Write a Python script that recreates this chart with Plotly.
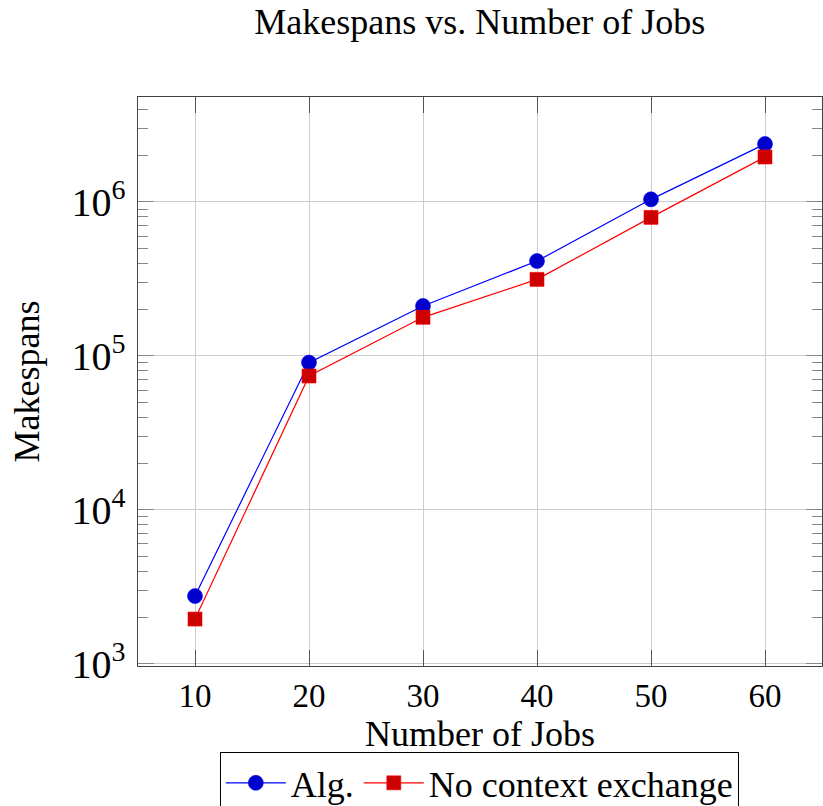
import plotly.graph_objects as go

jobs = [10, 20, 30, 40, 50, 60]
alg = [2750, 90400, 211000, 413000, 1040000, 2380000]
no_ctx = [1950, 74000, 178000, 314000, 794000, 1960000]

FONT = "Liberation Serif"

fig = go.Figure()
fig.add_trace(go.Scatter(
    x=jobs, y=alg, name="Alg.", mode="lines+markers",
    line=dict(color="#0000ff", width=1.2),
    marker=dict(symbol="circle", size=15, color="#0000cc",
                line=dict(color="#0000ff", width=0.6)),
))
fig.add_trace(go.Scatter(
    x=jobs, y=no_ctx, name="No context exchange", mode="lines+markers",
    line=dict(color="#ff0000", width=1.2),
    marker=dict(symbol="square", size=14, color="#cc0000",
                line=dict(color="#ff0000", width=0.6)),
))

fig.update_layout(
    width=823, height=806,
    margin=dict(l=138, r=1, t=97, b=140, autoexpand=False),
    paper_bgcolor="white", plot_bgcolor="white",
    font=dict(family=FONT, color="black", size=28),
    title=dict(text="Makespans vs. Number of Jobs", x=0.583, xanchor="center",
               y=0.974, yanchor="middle", font=dict(size=36, family=FONT)),
    showlegend=True,
    legend=dict(orientation="h", x=0.499, xanchor="center", y=-0.151, yanchor="top",
                bordercolor="black", borderwidth=1, bgcolor="white",
                font=dict(size=36, family=FONT), itemwidth=60,
                tracegroupgap=0),
)
fig.update_xaxes(
    range=[5, 65], tickvals=jobs, ticks="inside", ticklen=16, tickcolor="#555555",
    showline=True, linecolor="#444444", linewidth=1.2, mirror="allticks",
    showgrid=True, gridcolor="#cccccc", gridwidth=1, zeroline=False,
    tickfont=dict(size=33, family=FONT), automargin=False,
    title=dict(text="Number of Jobs", font=dict(size=36, family=FONT), standoff=8),
)
fig.update_yaxes(
    type="log", range=[2.985, 6.682], dtick=1, exponentformat="power",
    ticks="inside", ticklen=16, tickcolor="#888888",
    showline=True, linecolor="#444444", linewidth=1.2, mirror="allticks",
    showgrid=True, gridcolor="#cccccc", gridwidth=1, zeroline=False,
    tickfont=dict(size=32, family=FONT), automargin=False, ticklabelstandoff=5,
    minor=dict(ticks="inside", ticklen=10, tickcolor="#888888", dtick="D1", showgrid=False),
    title=dict(text="Makespans", font=dict(size=36, family=FONT), standoff=20),
)

fig.write_html(
    "out.html",
    config={"displayModeBar": False},
    post_script="document.body.style.margin='0';document.body.style.overflow='hidden';",
)
